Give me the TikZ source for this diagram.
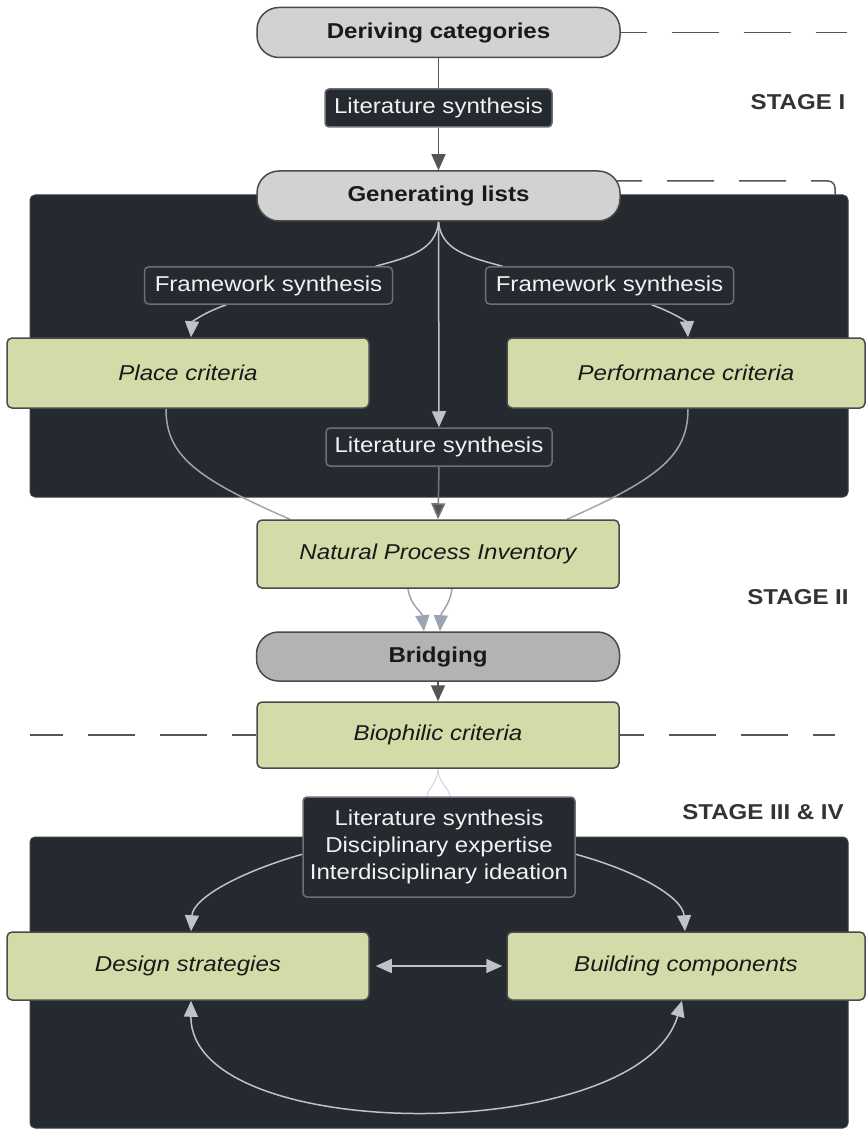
\documentclass[tikz,border=0pt]{standalone}
\usepackage{fontspec}
\setmainfont{Liberation Sans}[FakeStretch=1.12]
\usetikzlibrary{arrows.meta}

\definecolor{panel}{HTML}{252A31}
\definecolor{panelline}{HTML}{3A3F47}
\definecolor{pillfill}{HTML}{D2D2D2}
\definecolor{bridgefill}{HTML}{B3B3B3}
\definecolor{boxline}{HTML}{4A4A4A}
\definecolor{greenfill}{HTML}{D3DCA9}
\definecolor{tagline}{HTML}{6B7078}
\definecolor{darkline}{HTML}{555555}
\definecolor{lightline}{HTML}{BEC3CA}
\definecolor{blueline}{HTML}{9AA5B1}
\definecolor{stagetext}{HTML}{333333}

\pgfdeclarelayer{back}
\pgfdeclarelayer{edges}
\pgfsetlayers{back,edges,main}

\begin{document}
\begin{tikzpicture}[x=1pt,y=-1pt,
  txt/.style={font=\fontsize{21.5}{26}\selectfont},
  pill/.style={txt, font=\bfseries\fontsize{21.5}{26}\selectfont, draw=boxline, fill=pillfill,
    line width=1.5pt, rounded corners=22pt, minimum width=363pt, minimum height=50pt,
    inner sep=0pt, text=black!90},
  card/.style={txt, font=\itshape\fontsize{21.5}{26}\selectfont, draw=boxline, fill=greenfill,
    line width=1.5pt, rounded corners=5pt, minimum height=68pt, inner sep=0pt, text=black!90},
  tag/.style={txt, fill=panel, draw=tagline, line width=1.5pt, rounded corners=4pt,
    inner sep=0pt, text=white!95!black, minimum height=38pt},
  stagelabel/.style={font=\bfseries\fontsize{21.5}{26}\selectfont, text=stagetext},
  conn/.style={line width=1.5pt},
  tip/.style={-{Triangle[length=16pt,width=14pt]}},
  darkarrow/.style={conn, draw=darkline, tip},
  lightarrow/.style={conn, draw=lightline, tip},
  bluearrow/.style={conn, draw=blueline, tip},
  bothtips/.style={{Triangle[length=16pt,width=14pt]}-{Triangle[length=16pt,width=14pt]}},
  dashline/.style={line width=1.5pt, draw=darkline, dash pattern=on 47pt off 25pt},
]
\useasboundingbox (0,0) rectangle (865,1131);

% dark panels
\begin{pgfonlayer}{back}
  \filldraw[fill=panel, draw=panelline, line width=1pt, rounded corners=5pt]
    (30,195) rectangle (848,497);
  \filldraw[fill=panel, draw=panelline, line width=1pt, rounded corners=5pt]
    (30,837) rectangle (848,1128);
\end{pgfonlayer}

% nodes
\node[pill] (der) at (438.5,32.5) {Deriving categories};
\node[tag, minimum width=227pt] (lit1) at (438.5,108) {Literature synthesis};
\node[pill] (gen) at (438.5,196) {Generating lists};
\node[tag, minimum width=248pt, minimum height=37pt] (fw1) at (268.5,285.5) {Framework synthesis};
\node[tag, minimum width=248pt, minimum height=37pt] (fw2) at (609.5,285.5) {Framework synthesis};
\node[card, minimum width=362pt, minimum height=70pt] (place) at (188,373) {Place criteria};
\node[card, minimum width=358pt, minimum height=70pt] (perf) at (686,373) {Performance criteria};
\node[tag, minimum width=226pt] (lit2) at (439,447) {Literature synthesis};
\node[card, minimum width=362pt] (npi) at (438,554) {Natural Process Inventory};
\node[pill, fill=bridgefill, minimum height=49pt] (bridge) at (438,656.5) {Bridging};
\node[card, minimum width=362pt, minimum height=66pt] (bio) at (438,735) {Biophilic criteria};
\node[tag, minimum width=272pt, minimum height=100pt, align=center,
      font=\fontsize{21.5}{27}\selectfont] (lit3) at (439,847)
      {Literature synthesis\\Disciplinary expertise\\Interdisciplinary ideation};
\node[card, minimum width=362pt] (des) at (188,966) {Design strategies};
\node[card, minimum width=358pt] (bld) at (686,966) {Building components};

\node[stagelabel] (s1) at (798,102) {STAGE I};
\node[stagelabel] (s2) at (798,597) {STAGE II};
\node[stagelabel] (s3) at (763,812) {STAGE III \& IV};

% connectors
\begin{pgfonlayer}{edges}
  % stage separators
  \draw[dashline, dash phase=21pt] (der.east) -- (847,32.5);
  \draw[dashline, dash phase=15pt] (610,181) -- (828,181)
     arc[start angle=-90, end angle=0, radius=7] -- (835,195);
  \draw[dashline, dash phase=23pt] (bio.west) -- (30,735);
  \draw[dashline, dash phase=23pt] (bio.east) -- (835,735);

  % stage I
  \draw[conn, draw=darkline] (der) -- (lit1);
  \draw[darkarrow] (lit1) -- (gen);

  % stage II
  \draw[conn, draw=lightline] (gen.south) .. controls (436,250) and (410,257) .. ([xshift=107pt]fw1.north);
  \draw[conn, draw=lightline] (gen.south) .. controls (441,250) and (468,257) .. ([xshift=-107pt]fw2.north);
  \draw[lightarrow] ([xshift=-42pt]fw1.south) .. controls (205,312) and (192,322) .. ([xshift=3pt]place.north);
  \draw[lightarrow] ([xshift=42pt]fw2.south) .. controls (672,312) and (687,322) .. ([xshift=2pt]perf.north);
  \draw[lightarrow] (gen.south) -- (lit2.north);
  \draw[conn, draw=darkline!80!white, -{Triangle[length=16pt,width=14pt,fill=darkline]}] (lit2.south) -- (npi.north);
  \draw[conn, draw=lightline!85!black] ([xshift=-22pt]place.south) .. controls (166,455) and (195,478) .. ([xshift=-148pt]npi.north);
  \draw[conn, draw=lightline!85!black] ([xshift=2pt]perf.south) .. controls (688,455) and (660,478) .. ([xshift=129pt]npi.north);
  \draw[bluearrow] ([xshift=-30pt]npi.south) .. controls (410,605) and (422,612) .. ([xshift=-14pt]bridge.north);
  \draw[bluearrow] ([xshift=14pt]npi.south) .. controls (450,605) and (441,612) .. ([xshift=2pt]bridge.north);
  \draw[darkarrow] ([yshift=2pt]bridge.south) -- (bio.north);

  % stage III & IV
  \draw[line width=1pt, draw=lightline!70!white] (bio.south) .. controls (438,782) and (428,788) .. ([xshift=-12pt]lit3.north);
  \draw[line width=1pt, draw=lightline!70!white] (bio.south) .. controls (438,782) and (449,788) .. ([xshift=11pt]lit3.north);
  \draw[lightarrow] ([yshift=-58pt]lit3.north west) .. controls (240,872) and (193,898) .. ([xshift=3pt]des.north);
  \draw[lightarrow] ([yshift=-58pt]lit3.north east) .. controls (640,872) and (683,898) .. ([xshift=-1pt]bld.north);
  \draw[conn, draw=lightline, bothtips, shorten <=6pt, shorten >=4pt] (des.east) -- (bld.west);
  \draw[conn, draw=lightline, bothtips]
    ([xshift=3pt]des.south) .. controls (190,1146) and (640,1146) .. ([xshift=-4pt]bld.south);
\end{pgfonlayer}
\end{tikzpicture}
\end{document}
